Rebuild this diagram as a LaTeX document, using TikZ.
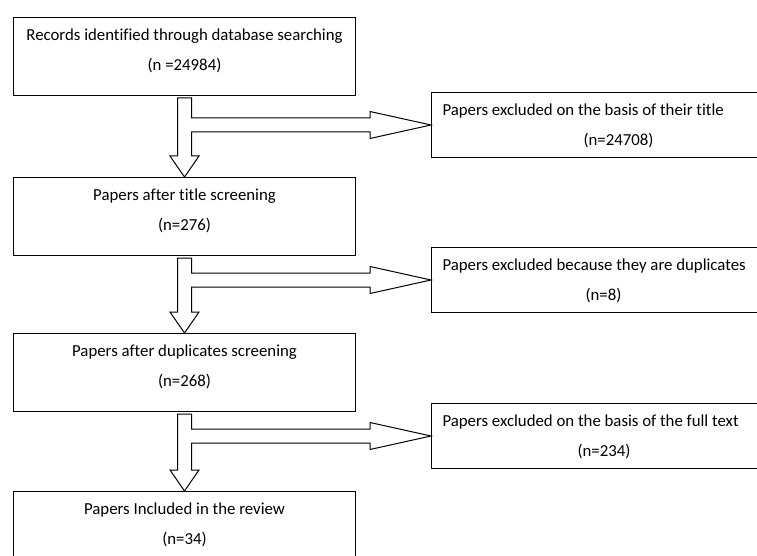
\documentclass[tikz,border=0pt]{standalone}
\usepackage{fontspec}
\setmainfont{Carlito}[Ligatures=NoCommon]
\usetikzlibrary{positioning, calc}

\newlength{\pxu}
\setlength{\pxu}{0.75pt}
% box text: first line near the top, second line below it
\newcommand{\stagetext}[2]{\parbox[c][78\pxu][t]{342\pxu}{\centering\rule{0pt}{17.5pt}#1\\#2}}
\newcommand{\exclusiontext}[3]{\parbox[c][65\pxu][t]{#1}{\rule{0pt}{17.5pt}\hspace*{11\pxu}#2\par\centering #3\par}}
% block arrow going down, with a branch to the right
\newcommand{\screenarrow}[3]{%
  \draw[blockarrow] let \p1=(#1.south), \p2=(#2.north), \p3=(#3.west) in
    (\x1-7*\pxu,\y1-2*\pxu) -- (\x1+7*\pxu,\y1-2*\pxu) -- (\x1+7*\pxu,\y3+7*\pxu)
    -- (\x3-61*\pxu,\y3+7*\pxu) -- (\x3-61*\pxu,\y3+13.5*\pxu) -- (\p3)
    -- (\x3-61*\pxu,\y3-13.5*\pxu) -- (\x3-61*\pxu,\y3-7*\pxu) -- (\x1+7*\pxu,\y3-7*\pxu)
    -- (\x1+7*\pxu,\y2+21*\pxu) -- (\x1+14.5*\pxu,\y2+21*\pxu) -- (\x2,\y2)
    -- (\x1-14.5*\pxu,\y2+21*\pxu) -- (\x1-7*\pxu,\y2+21*\pxu) -- cycle;}

\begin{document}
\begin{tikzpicture}[x=0.75pt, y=-0.75pt,
    stage/.style={draw, inner sep=0pt, line width=0.75pt,
                  font=\fontsize{12.6}{22.5}\selectfont},
    excluded/.style={draw, inner sep=0pt, anchor=north west, line width=0.75pt,
                     font=\fontsize{12.6}{22.5}\selectfont},
    blockarrow/.style={draw, fill=white, line width=0.75pt, line join=miter}
]
    \useasboundingbox (0,0) rectangle (757,556);
    \clip (0,0) rectangle (757,556);

    \node[stage, anchor=north west] (records) at (13,17) {\stagetext{Records identified through database searching}{(n =24984)}};
    \node[stage, below=60.75pt of records] (title) {\stagetext{Papers after title screening}{(n=276)}};
    \node[stage, below=57.75pt of title] (duplicates) {\stagetext{Papers after duplicates screening}{(n=268)}};
    \node[stage, below=59.25pt of duplicates] (included) {\stagetext{Papers Included in the review}{(n=34)}};

    \node[excluded] (titleout) at (431,92) {\exclusiontext{374\pxu}{Papers excluded on the basis of their title}{(n=24708)}};
    \node[excluded] (dupout) at (431,247) {\exclusiontext{344\pxu}{Papers excluded because they are duplicates}{(n=8)}};
    \node[excluded] (fullout) at (431,403) {\exclusiontext{345\pxu}{Papers excluded on the basis of the full text}{(n=234)}};

    \screenarrow{records}{title}{titleout}
    \screenarrow{title}{duplicates}{dupout}
    \screenarrow{duplicates}{included}{fullout}
\end{tikzpicture}
\end{document}
